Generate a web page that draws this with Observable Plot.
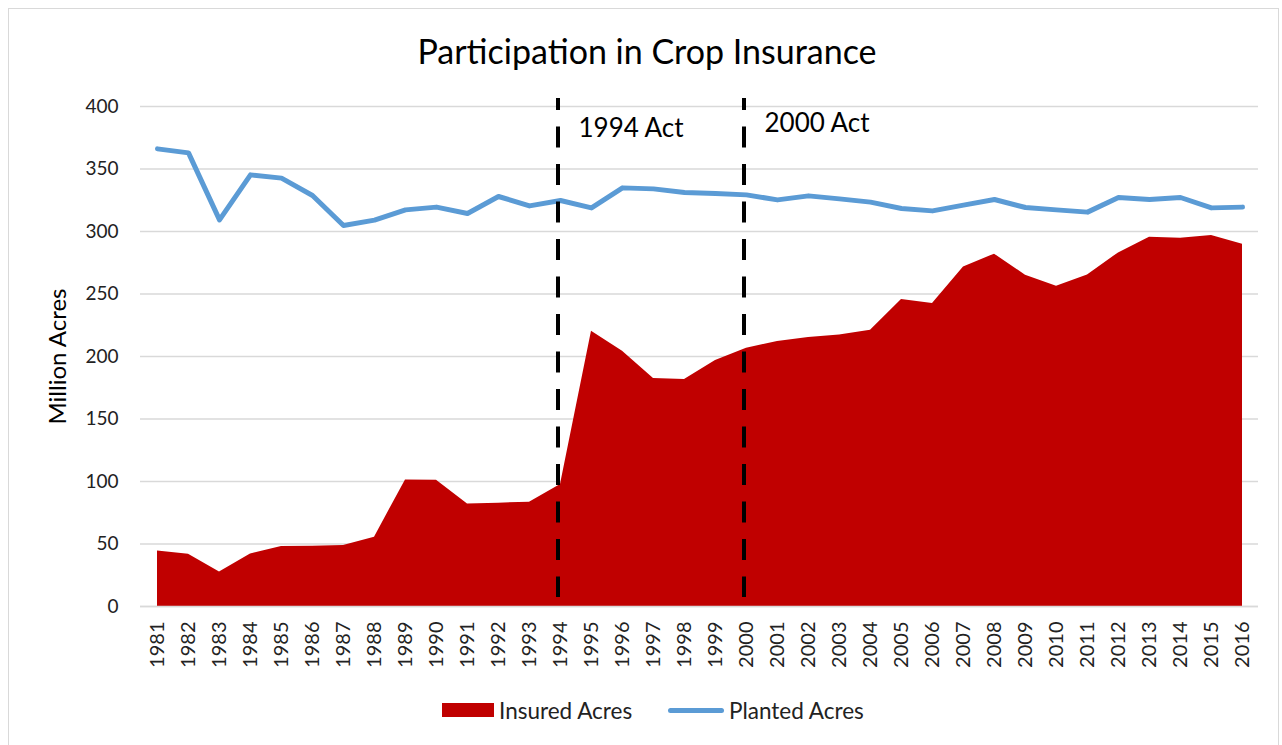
<!DOCTYPE html>
<html>
<head>
<meta charset="utf-8">
<script src="https://cdn.jsdelivr.net/npm/d3@7"></script>
<script src="https://cdn.jsdelivr.net/npm/@observablehq/plot@0.6"></script>
<style>
  html, body { margin: 0; padding: 0; background: #fff; }
  body { width: 1282px; height: 745px; overflow: hidden; position: relative; font-family: Lato, "Open Sans", sans-serif; }
  #frame { position: absolute; left: 8px; top: 8px; width: 1271px; height: 760px; border: 1px solid #d9d9d9; box-sizing: border-box; }
  #title { position: absolute; left: 6px; top: 30px; width: 1282px; text-align: center; font-size: 34px; color: #000; }
  #chart { position: absolute; left: 0; top: 70px; }
  .item { position: absolute; top: 697px; display: flex; align-items: center; font-size: 22.5px; color: #222; height: 26px; }
  .sw-area { width: 52px; height: 14px; background: #C00000; margin-right: 5px; }
  .sw-line { width: 56px; height: 5px; border-radius: 3px; background: #5B9BD5; margin-right: 5px; }
</style>
</head>
<body>
<div id="frame"></div>
<div id="title">Participation in Crop Insurance</div>
<div id="chart"></div>
<div class="item" style="left:442px"><div class="sw-area"></div><span>Insured Acres</span></div>
<div class="item" style="left:668px"><div class="sw-line"></div><span>Planted Acres</span></div>
<script>
const years = [1981,1982,1983,1984,1985,1986,1987,1988,1989,1990,1991,1992,1993,1994,1995,1996,1997,1998,1999,2000,2001,2002,2003,2004,2005,2006,2007,2008,2009,2010,2011,2012,2013,2014,2015,2016];
const insuredAcres = [44.5,41.9,27.7,42.1,48,48.3,48.8,55.5,101.3,101,82.1,82.7,83.5,97.6,220.3,204.3,182.4,181.6,196.8,206.7,212,215.2,217.3,221.1,245.6,242.4,271.7,281.9,265.1,256.3,265.3,282.9,295.5,294.7,296.8,289.9];
const plantedAcres = [366.1,362.9,309.3,345.3,342.7,328.8,304.8,309.1,317.3,319.5,314.4,328,320.5,324.8,318.9,334.9,334.1,331.2,330.4,329.3,325.3,328.5,326.1,323.5,318.4,316.5,321.1,325.6,319.2,317.3,315.5,327.2,325.6,327.2,318.9,319.5];
const yTicks = [0,50,100,150,200,250,300,350,400];
const actYears = [1994, 2000];
const actLabels = ["1994 Act", "2000 Act"];
const actLabelValues = [382, 386];

const rows = years.map((y, i) => ({year: String(y), insured: insuredAcres[i], planted: plantedAcres[i]}));
const acts = actYears.map((y, i) => ({year: String(y), label: actLabels[i], v: actLabelValues[i]}));

const chart = Plot.plot({
  width: 1282,
  height: 610,
  marginLeft: 140,
  marginRight: 24,
  marginTop: 36,
  marginBottom: 74,
  style: {fontFamily: "Lato, 'Open Sans', sans-serif", fontSize: "18px", color: "#222", background: "transparent"},
  x: {type: "point", domain: years.map(String), padding: 0.5, label: null},
  y: {domain: [0, 400], label: null},
  marks: [
    Plot.gridY(yTicks, {stroke: "#d9d9d9", strokeOpacity: 1, strokeWidth: 1.5}),
    Plot.areaY(rows, {x: "year", y: "insured", fill: "#C00000"}),
    Plot.lineY(rows, {x: "year", y: "planted", stroke: "#5B9BD5", strokeWidth: 5, strokeLinejoin: "round", strokeLinecap: "round"}),
    Plot.ruleX(acts, {x: "year", dx: -2.5, stroke: "#000", strokeWidth: 4, strokeDasharray: "21,16.5", strokeDashoffset: 9, insetTop: -8, insetBottom: 9}),
    Plot.text(acts, {x: "year", y: "v", text: "label", textAnchor: "start", dx: 18, fontSize: 26, fill: "#000"}),
    Plot.axisY(yTicks, {tickSize: 0, tickPadding: 22, fontSize: 19, label: "Million Acres", labelAnchor: "center", labelArrow: "none", labelOffset: 92}),
    Plot.axisX(years.map(String), {tickSize: 0, tickPadding: 15, tickRotate: -90, fontSize: 20}),
    Plot.ruleY([0], {stroke: "#d9d9d9", strokeWidth: 1.5})
  ]
});
document.getElementById("chart").appendChild(chart);
chart.querySelectorAll("[aria-label='y-axis label'] text").forEach(t => { t.style.fontSize = "24px"; t.setAttribute("fill", "#000"); });
</script>
</body>
</html>
